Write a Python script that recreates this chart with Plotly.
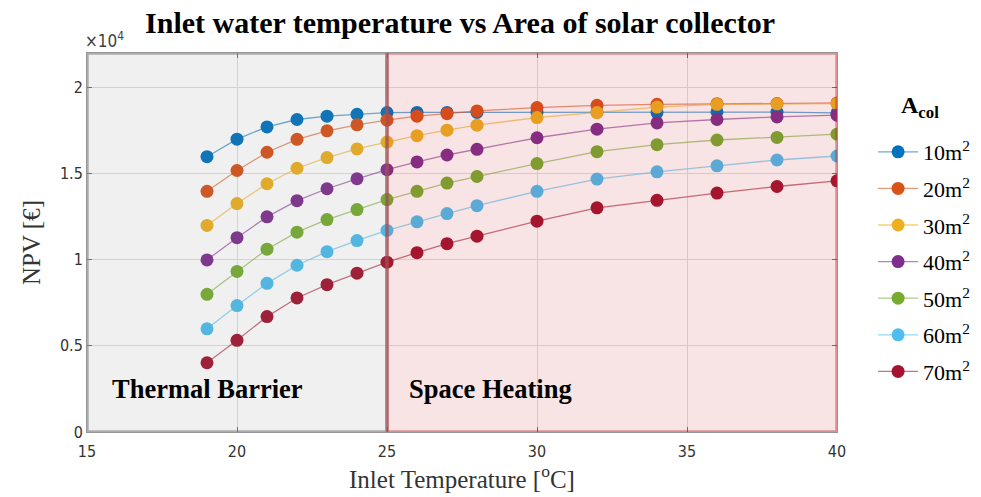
import plotly.graph_objects as go

# ---- data (NPV in EUR) ----
temps = [19, 20, 21, 22, 23, 24, 25, 26, 27, 28, 30, 32, 34, 36, 38, 40]
areas = ["10", "20", "30", "40", "50", "60", "70"]
npv_10 = [15980, 17000, 17710, 18140, 18330, 18440, 18540, 18550, 18550, 18550, 18550, 18560, 18540, 18580, 18570, 18520]
npv_20 = [13970, 15180, 16240, 16990, 17480, 17830, 18100, 18330, 18480, 18640, 18830, 18960, 19020, 19060, 19070, 19100]
npv_30 = [11990, 13260, 14410, 15310, 15930, 16430, 16830, 17200, 17520, 17810, 18250, 18540, 18860, 19020, 19040, 19060]
npv_40 = [9990, 11280, 12490, 13430, 14120, 14700, 15230, 15680, 16080, 16410, 17080, 17580, 17940, 18140, 18290, 18390]
npv_50 = [7990, 9320, 10610, 11600, 12330, 12910, 13490, 13970, 14450, 14830, 15580, 16270, 16680, 16950, 17100, 17290]
npv_60 = [5990, 7340, 8630, 9680, 10470, 11110, 11700, 12200, 12680, 13140, 13970, 14680, 15100, 15450, 15790, 16020]
npv_70 = [4020, 5320, 6700, 7780, 8550, 9220, 9860, 10410, 10930, 11370, 12240, 13010, 13450, 13870, 14250, 14580]
series = [npv_10, npv_20, npv_30, npv_40, npv_50, npv_60, npv_70]
colors = ["#0072BD", "#D95319", "#EDB120", "#7E2F8E", "#77AC30", "#4DBEEE", "#A2142F"]
line_colors = ["rgba(0,114,189,0.6)", "rgba(217,83,25,0.6)", "rgba(237,177,32,0.6)",
               "rgba(126,47,142,0.6)", "rgba(119,172,48,0.6)", "rgba(77,190,238,0.6)",
               "rgba(162,20,47,0.6)"]
yticks = [0, 5000, 10000, 15000, 20000]
yticklabels = ["0", "0.5", "1", "1.5", "2"]
xticks = [15, 20, 25, 30, 35, 40]

serif = "Liberation Serif, DejaVu Serif, serif"
narrow = "Liberation Sans Narrow, DejaVu Sans Condensed, Arial Narrow, Liberation Sans, sans-serif"

fig = go.Figure()
for a, ys, c, lc in zip(areas, series, colors, line_colors):
    fig.add_trace(go.Scatter(
        x=temps, y=ys, mode="lines+markers",
        name=f"{a}m<sup>2</sup>",
        legendgroup=a,
        line=dict(color=lc, width=1.3),
        marker=dict(color=c, size=13, line=dict(width=0)),
    ))

# regions
fig.add_shape(type="rect", xref="x", yref="y", x0=15, x1=25, y0=0, y1=22000,
              fillcolor="rgb(128,128,128)", opacity=0.12, line=dict(width=0), layer="above")
fig.add_shape(type="rect", xref="x", yref="y", x0=25, x1=40, y0=0, y1=22000,
              fillcolor="rgb(200,30,40)", opacity=0.12, line=dict(width=0), layer="above")
fig.add_shape(type="rect", xref="x", yref="y", x0=15, x1=25, y0=0, y1=22000,
              fillcolor="rgba(0,0,0,0)", opacity=0.6, line=dict(color="rgb(128,128,128)", width=3.5), layer="above")
fig.add_shape(type="rect", xref="x", yref="y", x0=25, x1=40, y0=0, y1=22000,
              fillcolor="rgba(0,0,0,0)", opacity=0.45, line=dict(color="rgb(190,40,50)", width=3.5), layer="above")

fig.add_annotation(x=15.75, y=2500, xref="x", yref="y", text="<b>Thermal Barrier</b>",
                   showarrow=False, xanchor="left", yanchor="middle",
                   font=dict(family=serif, size=26.5, color="black"))
fig.add_annotation(x=25.65, y=2500, xref="x", yref="y", text="<b>Space Heating</b>",
                   showarrow=False, xanchor="left", yanchor="middle",
                   font=dict(family=serif, size=26.5, color="black"))
fig.add_annotation(x=-0.006, y=1.0, xref="paper", yref="paper", text="×10<sup>4</sup>",
                   showarrow=False, xanchor="left", yanchor="bottom",
                   font=dict(family=narrow, size=17, color="#404040"))
# legend title
fig.add_annotation(x=(920 - 87) / 750, y=(434 - 107) / 381, xref="paper", yref="paper",
                   text="<b>A<sub>col</sub></b>", showarrow=False,
                   xanchor="center", yanchor="middle",
                   font=dict(family=serif, size=24, color="black"))

fig.update_layout(
    width=981, height=497,
    margin=dict(l=87, r=144, t=53, b=63),
    paper_bgcolor="white", plot_bgcolor="white",
    title=dict(text="<b>Inlet water temperature vs Area of solar collector</b>",
               x=0.469, xanchor="center", y=0.955, yanchor="middle", yref="container",
               font=dict(family=serif, size=30, color="black")),
    xaxis=dict(range=[15, 40], tickvals=xticks, ticktext=[str(t) for t in xticks],
               showgrid=True, gridcolor="rgb(222,222,222)", gridwidth=1,
               showline=True, linecolor="rgb(150,150,150)", linewidth=1, mirror="allticks",
               ticks="inside", ticklen=5, tickcolor="rgb(110,110,110)",
               zeroline=False, ticklabelstandoff=5,
               tickfont=dict(family=narrow, size=16, color="#333333"),
               title=dict(text="Inlet Temperature [<sup>o</sup>C]", standoff=6,
                          font=dict(family=serif, size=25, color="#333333"))),
    yaxis=dict(range=[0, 22000], tickvals=yticks, ticktext=yticklabels,
               showgrid=True, gridcolor="rgb(222,222,222)", gridwidth=1,
               showline=True, linecolor="rgb(150,150,150)", linewidth=1, mirror="allticks",
               ticks="inside", ticklen=5, tickcolor="rgb(110,110,110)",
               zeroline=False,
               tickfont=dict(family=narrow, size=16, color="#333333"),
               title=dict(text="NPV [€]", standoff=12,
                          font=dict(family=serif, size=25, color="#333333"))),
    legend=dict(x=0.89, y=1 - 131 / 497, xref="container", yref="container",
                xanchor="left", yanchor="top", maxheight=420,
                bgcolor="rgba(0,0,0,0)", borderwidth=0,
                font=dict(family=serif, size=22, color="black"),
                tracegroupgap=5, itemwidth=40),
    showlegend=True,
)

fig.write_html("out.html")
